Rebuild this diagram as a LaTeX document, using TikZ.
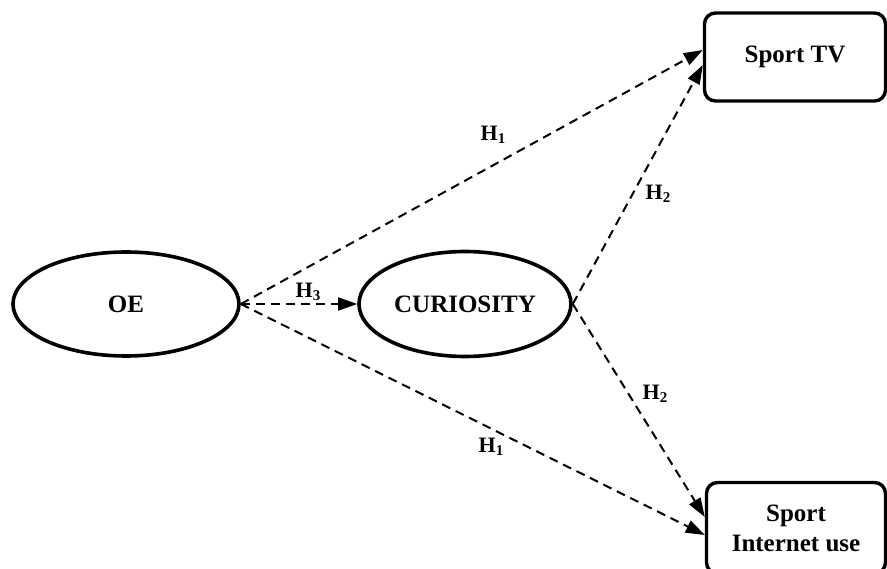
\documentclass[tikz,border=0pt]{standalone}
\usepackage{fontspec}
\setmainfont{Liberation Serif}
\usetikzlibrary{arrows.meta,shapes.geometric}
\newcommand\Hlab[1]{H\raisebox{-0.3ex}{\fontsize{15}{15}\selectfont #1}}
\tikzset{
  latent/.style={ellipse, draw, line width=3.6pt, font=\bfseries\fontsize{25}{29}\selectfont, inner sep=0pt},
  obsbox/.style={rectangle, rounded corners=11pt, draw, line width=3.4pt, font=\bfseries\fontsize{25}{30}\selectfont, align=center, inner sep=0pt},
  hyp/.style={dashed, dash pattern=on 9pt off 6pt, line width=2pt, -{Triangle[length=19pt,width=13pt]}},
  lbl/.style={font=\bfseries\fontsize{22}{24}\selectfont, inner sep=0pt}
}
\begin{document}
\begin{tikzpicture}[x=1pt,y=-1pt]
\useasboundingbox (0,0) rectangle (887,569);
\clip (0,0) rectangle (887,569);
\node[latent, minimum width=226pt, minimum height=104pt] (oe) at (126,304) {OE};
\node[latent, minimum width=212pt, minimum height=105pt] (cur) at (465,304) {CURIOSITY};
\node[obsbox, minimum width=181pt, minimum height=88pt] (tv) at (795,57) {Sport TV};
\node[obsbox, minimum width=179pt, minimum height=91pt] (inet) at (796,528) {Sport\\Internet use};
\draw[hyp] (oe.east) -- ([yshift=7pt]tv.west);
\draw[hyp] (oe.east) -- ([yshift=-7pt]inet.west);
\draw[hyp] (oe.east) -- (cur.west);
\draw[hyp] (cur.east) -- ([yshift=-8pt]tv.west);
\draw[hyp] (cur.east) -- ([yshift=11pt]inet.west);
\node[lbl] (h1a) at (493,135) {\Hlab{1}};
\node[lbl] (h2a) at (658,194) {\Hlab{2}};
\node[lbl] (h3) at (308,292) {\Hlab{3}};
\node[lbl] (h2b) at (655,394) {\Hlab{2}};
\node[lbl] (h1b) at (491,447) {\Hlab{1}};
\end{tikzpicture}
\end{document}
